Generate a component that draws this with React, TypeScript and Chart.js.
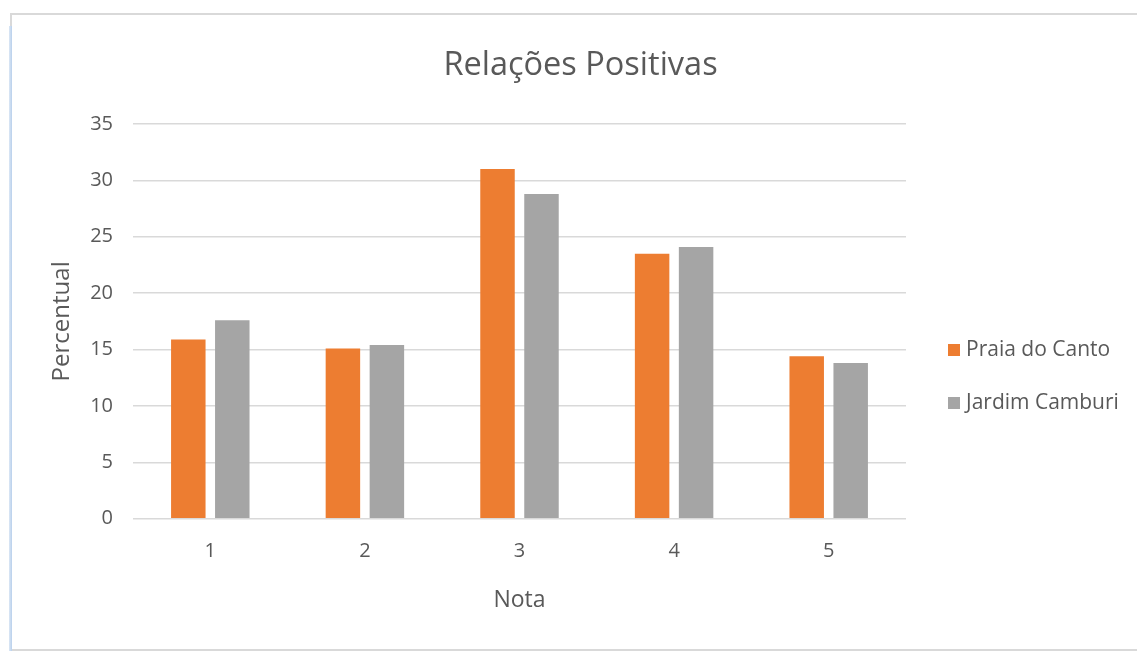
import React, { useEffect, useRef } from "react";
import { Chart, registerables } from "chart.js";

Chart.register(...registerables);

const categories = ["1", "2", "3", "4", "5"];
const praiaDoCanto = [15.9, 15.1, 31.0, 23.5, 14.4];
const jardimCamburi = [17.6, 15.4, 28.8, 24.1, 13.8];
const seriesNames = ["Praia do Canto", "Jardim Camburi"];
const seriesColors = ["#ED7D31", "#A5A5A5"];
const chartTitle = "Relações Positivas";
const xAxisTitle = "Nota";
const yAxisTitle = "Percentual";
const yMin = 0;
const yMax = 35;
const yStep = 5;

const FONT = "'Open Sans', 'Noto Sans', sans-serif";
const TEXT = "#595959";

const legendPlugin = {
  id: "sideLegend",
  afterDraw(chart: any) {
    const { ctx, chartArea } = chart;
    const x = chartArea.right + 42;
    const y0 = chartArea.top + 226;
    const gap = 53;
    ctx.save();
    ctx.font = `21px ${FONT}`;
    ctx.textBaseline = "middle";
    ctx.textAlign = "left";
    chart.data.datasets.forEach((ds: any, i: number) => {
      const y = y0 + i * gap;
      ctx.fillStyle = ds.backgroundColor;
      ctx.fillRect(x, y - 6, 12, 12);
      ctx.fillStyle = TEXT;
      ctx.fillText(ds.label, x + 18, y);
    });
    ctx.restore();
  },
};

export default function App() {
  const ref = useRef<HTMLCanvasElement | null>(null);

  useEffect(() => {
    if (!ref.current) return;
    const chart = new Chart(ref.current, {
      type: "bar",
      data: {
        labels: categories,
        datasets: [
          {
            label: seriesNames[0],
            data: praiaDoCanto,
            backgroundColor: seriesColors[0],
            categoryPercentage: 0.569,
            barPercentage: 0.784,
          },
          {
            label: seriesNames[1],
            data: jardimCamburi,
            backgroundColor: seriesColors[1],
            categoryPercentage: 0.569,
            barPercentage: 0.784,
          },
        ],
      },
      options: {
        animation: false,
        responsive: false,
        devicePixelRatio: 1,
        layout: { padding: { left: 0, right: 0, top: 0, bottom: 0 } },
        plugins: {
          legend: { display: false },
          tooltip: { enabled: false },
          title: {
            display: true,
            text: chartTitle,
            color: TEXT,
            font: { family: FONT, size: 32.5, weight: "normal" },
            padding: { top: 31, bottom: 39 },
          },
        },
        scales: {
          x: {
            grid: { display: false, drawTicks: false },
            border: { display: false },
            ticks: {
              color: TEXT,
              font: { family: FONT, size: 20 },
              padding: 21,
            },
            title: {
              display: true,
              text: xAxisTitle,
              color: TEXT,
              font: { family: FONT, size: 23 },
              padding: { top: 10, bottom: 34 },
            },
            afterFit(scale: any) {
              scale.height = 129.3;
            },
          },
          y: {
            min: yMin,
            max: yMax,
            ticks: {
              stepSize: yStep,
              color: TEXT,
              font: { family: FONT, size: 20 },
              padding: 20,
            },
            grid: { color: "#D9D9D9", lineWidth: 1.5, drawTicks: false },
            border: { display: false },
            title: {
              display: true,
              text: yAxisTitle,
              color: TEXT,
              font: { family: FONT, size: 24 },
              padding: { top: 36, bottom: 0 },
            },
            afterFit(scale: any) {
              scale.width = 121;
            },
          },
          legendSpace: {
            type: "linear",
            position: "right",
            display: true,
            grid: { display: false, drawTicks: false },
            border: { display: false },
            ticks: { display: false },
            afterFit(scale: any) {
              scale.width = 243;
            },
          },
        },
      },
      plugins: [legendPlugin],
    });
    return () => chart.destroy();
  }, []);

  return (
    <div style={{ position: "fixed", left: 0, top: 0, width: 1137, height: 651, background: "#fff", overflow: "hidden" }}>
      <div
        style={{
          position: "absolute",
          left: 10,
          top: 13,
          width: 1140,
          height: 638,
          border: "2px solid #D9D9D9",
          boxSizing: "border-box",
          background: "#fff",
        }}
      />
      <div
        style={{
          position: "absolute",
          left: 9,
          top: 26,
          width: 3,
          height: 625,
          background: "linear-gradient(to right, #dbe7f5, #b9d0ec)",
        }}
      />
      <canvas
        ref={ref}
        width={1137}
        height={633}
        style={{ position: "absolute", left: 12, top: 15, width: 1137, height: 633 }}
      />
    </div>
  );
}
